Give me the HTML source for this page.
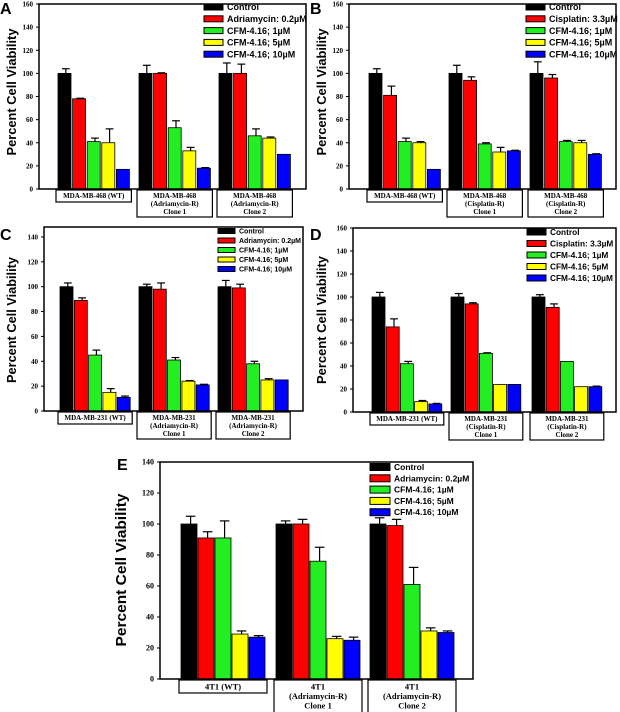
<!DOCTYPE html>
<html><head><meta charset="utf-8"><style>
html,body{margin:0;padding:0;background:#fff;}
svg{display:block;}
</style></head><body>
<svg id="fig" width="620" height="712" viewBox="0 0 620 712" xmlns="http://www.w3.org/2000/svg"></svg>
<script>
// ---- data ----
const colors = ["#000000","#ff0000","#22ee22","#ffff00","#0000ff"];
const ticksA = [0,20,40,60,80,100,120,140,160];
const ticksC = [0,20,40,60,80,100,120,140];
const valuesA = [[100,78,41,40,17],[100,100,53,33,18],[100,100,46,44,30]];
const errorsA = [[4,0.5,3,12,0],[7,0.5,6,3,0.5],[9,8,6,1,0]];
const valuesB = [[100,81,41,40,17],[100,94,39,32,33],[100,96,41,40,30]];
const errorsB = [[4,8,3,1,0],[7,3,1,4,0.5],[10,3,1,2,0.5]];
const valuesC = [[100,89,45,15,11],[100,98,41,24,21],[100,99,38,25,25]];
const errorsC = [[3,2,4,3,1],[2,5,2,0.5,0.5],[5,3,2,1,0]];
const valuesD = [[100,74,42,9,7],[100,94,51,24,24],[100,91,44,22,22]];
const errorsD = [[4,7,2,1,0.5],[3,1,0.5,0,0],[2,3,0,0,0.5]];
const valuesE = [[100,91,91,29,27],[100,100,76,26,25],[100,99,61,31,30]];
const errorsE = [[5,4,11,2,1],[2,3,9,1.5,2],[4,4,11,2,1]];
const legendAdr = ["Control","Adriamycin: 0.2\u00b5M","CFM-4.16; 1\u00b5M","CFM-4.16; 5\u00b5M","CFM-4.16; 10\u00b5M"];
const legendCis = ["Control","Cisplatin: 3.3\u00b5M","CFM-4.16; 1\u00b5M","CFM-4.16; 5\u00b5M","CFM-4.16; 10\u00b5M"];
const groupsA = [["MDA-MB-468 (WT)"],["MDA-MB-468","(Adriamycin-R)","Clone 1"],["MDA-MB-468","(Adriamycin-R)","Clone 2"]];
const groupsB = [["MDA-MB-468 (WT)"],["MDA-MB-468","(Cisplatin-R)","Clone 1"],["MDA-MB-468","(Cisplatin-R)","Clone 2"]];
const groupsC = [["MDA-MB-231 (WT)"],["MDA-MB-231","(Adriamycin-R)","Clone 1"],["MDA-MB-231","(Adriamycin-R)","Clone 2"]];
const groupsD = [["MDA-MB-231 (WT)"],["MDA-MB-231","(Cisplatin-R)","Clone 1"],["MDA-MB-231","(Cisplatin-R)","Clone 2"]];
const groupsE = [["4T1 (WT)"],["4T1","(Adriamycin-R)","Clone 1"],["4T1","(Adriamycin-R)","Clone 2"]];

const NS="http://www.w3.org/2000/svg";
const svg=document.getElementById('fig');
function mk(tag,attrs,parent){const e=document.createElementNS(NS,tag);for(const k in attrs)e.setAttribute(k,attrs[k]);(parent||svg).appendChild(e);return e;}

function drawPanel(L,vals,errs,ticks,legend,groups,name){
  const g=mk('g',{});
  
  
  const y=v=>L.y1-v/L.ymax*(L.y1-L.y0);
  const pl=mk('text',{x:L.lx,y:L.ly,'font-family':'Liberation Sans, sans-serif','font-weight':'bold','font-size':16},g);
  pl.textContent=L.letter;
  
  
  const yt=mk('text',{x:0,y:0,transform:`translate(${L.tx},${L.ty}) rotate(-90)`,'text-anchor':'middle','font-family':'Liberation Sans, sans-serif','font-weight':'bold','font-size':L.tfs,textLength:L.tlen,lengthAdjust:'spacingAndGlyphs'},g);
  yt.textContent="Percent Cell Viability";
  
  
  ticks.forEach(t=>{
    mk('line',{x1:L.x0-3,x2:L.x0,y1:y(t),y2:y(t),stroke:'#000','stroke-width':1},g);
    const tl=mk('text',{x:L.x0-6,y:y(t)+2.5,'text-anchor':'end','font-family':'Liberation Serif, serif','font-weight':'bold','font-size':L.tkfs},g);
    tl.textContent=t;
    
    
  });
  vals.forEach((grp,gi)=>{
    grp.forEach((v,si)=>{
      const x=L.gx[gi]+si*L.step;
      const r=mk('rect',{x:x,y:y(v),width:L.bw,height:L.y1-y(v),fill:colors[si],stroke:'#000','stroke-width':0.8},g);
      
      
      const e=errs[gi][si];
      if(e>0){
        const cx=x+L.bw*0.6;
        mk('line',{x1:cx,x2:cx,y1:y(v),y2:y(v+e),stroke:'#000','stroke-width':1.2},g);
        mk('line',{x1:cx-L.bw*0.3,x2:cx+L.bw*0.3,y1:y(v+e),y2:y(v+e),stroke:'#000','stroke-width':1.2},g);
      }
    });
    const bx=L.gx[gi]-2, bw=4*L.step+L.bw+4;
    const lines=groups[gi];
    const bh=lines.length===1?L.gh1:L.gh3;
    const gb=mk('rect',{x:bx,y:L.y1+1,width:bw,height:bh,fill:'#fff',stroke:'#000','stroke-width':1.2},g);
    
    
    lines.forEach((s,li)=>{
      const t=mk('text',{x:bx+bw/2,y:L.y1+1+L.lfs+1+li*(L.lfs+1),'text-anchor':'middle','font-family':'Liberation Serif, serif','font-weight':'bold','font-size':L.lfs},g);
      t.textContent=s;
      
      
    });
  });
  mk('rect',{x:L.x0,y:L.y0,width:L.x1-L.x0,height:L.y1-L.y0,fill:'none',stroke:'#000','stroke-width':1.5},g);
  legend.forEach((s,i)=>{
    const ly=L.legY+i*L.legDy;
    const sw=mk('rect',{x:L.legX,y:ly-L.legH/2,width:L.legW,height:L.legH,fill:colors[i],stroke:'#000','stroke-width':1},g);
    
    
    const t=mk('text',{x:L.legX+L.legW+4,y:ly+L.legFs*0.35,'font-family':'Liberation Sans, sans-serif','font-weight':'bold','font-size':L.legFs},g);
    t.textContent=s;
    
    
  });
}

const base={tkfs:7,lfs:7,gh1:12,gh3:27,bw:13,step:14.6,tfs:13,tlen:127,legW:19,legH:6,legFs:9};
drawPanel(Object.assign({},base,{letter:'A',lx:0,ly:14,x0:39,x1:306,y0:4,y1:189,ymax:160,gx:[58,139,219],tx:16,ty:92,legX:204,legY:7,legDy:11.8}),valuesA,errorsA,ticksA,legendAdr,groupsA,'panel-a');
drawPanel(Object.assign({},base,{letter:'B',lx:310,ly:14,x0:349,x1:616,y0:4,y1:189,ymax:160,gx:[369,449,530],tx:326,ty:92,legX:526,legY:7,legDy:11.8}),valuesB,errorsB,ticksA,legendCis,groupsB,'panel-b');
drawPanel(Object.assign({},base,{letter:'C',lx:0,ly:240,x0:44,x1:303,y0:227,y1:411,ymax:148,gx:[60,139,218],step:14.3,tx:16,ty:320,tlen:126,legX:218,legY:231,legDy:9.5,legW:17,legH:5,legFs:7}),valuesC,errorsC,ticksC,legendAdr,groupsC,'panel-c');
drawPanel(Object.assign({},base,{letter:'D',lx:310,ly:240,x0:353,x1:616,y0:228,y1:412,ymax:160,gx:[372,451,532],step:14.2,tx:326,ty:320,tlen:128,legX:527,legY:232,legDy:11.5,legW:19,legFs:8.3}),valuesD,errorsD,ticksA,legendCis,groupsD,'panel-d');
drawPanel(Object.assign({},base,{letter:'E',lx:117,ly:470,x0:160,x1:473,y0:462,y1:679,ymax:140,gx:[181,276,370],bw:16,step:17,tx:126,ty:570,tfs:15,tlen:153,tkfs:8,lfs:8.5,gh1:13,gh3:40,legX:370,legY:467,legDy:11.3,legW:20,legH:7,legFs:8.5}),valuesE,errorsE,ticksC,legendAdr,groupsE,'panel-e');
</script>
</body></html>
